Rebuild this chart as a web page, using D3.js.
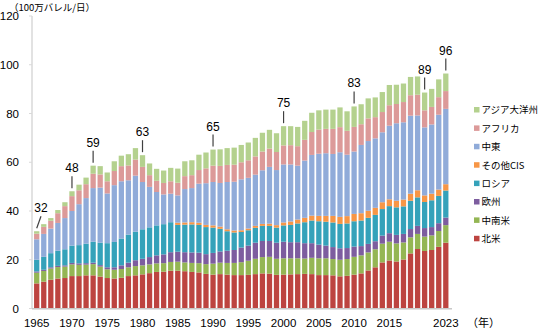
<!DOCTYPE html>
<html>
<head>
<meta charset="utf-8">
<script src="https://cdn.jsdelivr.net/npm/d3@7"></script>
<style>
  body { margin: 0; background: #fff; }
  svg { display: block; font-family: "Liberation Sans", Arial, "Noto Sans CJK JP", sans-serif; }
  .jp { font-family: "Noto Sans CJK JP", sans-serif; }
</style>
</head>
<body>
<svg id="chart" width="540" height="329"></svg>
<script>
// 地域別の石油生産量（100万バレル/日）、1965〜2023年
const years = d3.range(1965, 2024)

const northAmerica = [
  10.3, 11.0, 11.8, 12.3, 12.5, 13.3, 13.3, 13.6, 13.6, 13.1,
  12.5, 12.3, 12.6, 13.3, 13.6, 14.0, 14.5, 15.0, 15.1, 15.5,
  15.5, 15.3, 15.0, 14.8, 14.2, 13.9, 14.1, 13.9, 13.7, 13.7,
  13.8, 14.1, 14.4, 14.3, 13.8, 13.9, 14.0, 14.1, 14.2, 14.1,
  13.7, 13.7, 13.6, 13.2, 13.4, 13.9, 14.4, 15.6, 16.9, 18.9,
  19.7, 19.3, 20.1, 22.6, 24.4, 23.6, 24.0, 25.3, 27.0]
const latinAmerica = [
  4.4, 4.4, 4.6, 4.7, 4.7, 4.8, 4.6, 4.4, 4.6, 4.1,
  3.6, 3.6, 3.6, 3.6, 3.8, 3.7, 3.6, 3.5, 3.5, 3.6,
  3.7, 3.6, 3.7, 3.8, 4.0, 4.5, 4.7, 4.8, 5.0, 5.3,
  5.8, 6.3, 6.7, 6.9, 6.6, 6.7, 6.6, 6.5, 6.3, 6.7,
  6.9, 6.9, 6.7, 6.8, 6.9, 7.3, 7.4, 7.4, 7.4, 7.7,
  7.7, 7.4, 7.0, 6.6, 6.2, 5.9, 6.0, 6.5, 7.2]
const europe = [
  0.5, 0.5, 0.5, 0.5, 0.5, 0.6, 0.6, 0.6, 0.6, 0.6,
  0.8, 1.0, 1.5, 1.9, 2.4, 2.7, 3.0, 3.3, 3.6, 4.0,
  4.1, 4.2, 4.3, 4.3, 4.1, 4.4, 4.6, 5.0, 5.3, 6.0,
  6.2, 6.6, 6.6, 6.5, 6.6, 6.8, 6.6, 6.6, 6.3, 6.0,
  5.6, 5.2, 4.9, 4.7, 4.5, 4.2, 3.8, 3.5, 3.3, 3.3,
  3.5, 3.5, 3.5, 3.4, 3.3, 3.5, 3.4, 3.2, 3.1]
// 1984年まではソ連全体
const russia = [
  4.8, 5.3, 5.8, 6.2, 6.6, 7.1, 7.5, 8.0, 8.6, 9.2,
  9.9, 10.4, 11.0, 11.5, 11.7, 12.1, 12.2, 12.3, 12.4, 12.3,
  11.0, 11.3, 11.5, 11.4, 11.1, 10.4, 9.3, 8.0, 7.2, 6.4,
  6.3, 6.1, 6.2, 6.2, 6.2, 6.7, 7.1, 7.7, 8.6, 9.3,
  9.6, 9.8, 10.1, 10.0, 10.1, 10.4, 10.5, 10.7, 10.8, 10.9,
  11.1, 11.3, 11.3, 11.6, 11.7, 10.7, 11.0, 11.2, 11.1]
const otherCis = [
  0, 0, 0, 0, 0, 0, 0, 0, 0, 0,
  0, 0, 0, 0, 0, 0, 0, 0, 0, 0,
  0.9, 0.9, 0.9, 0.9, 0.9, 0.9, 0.9, 0.8, 0.8, 0.7,
  0.7, 0.8, 0.8, 0.9, 1.0, 1.2, 1.4, 1.6, 1.8, 2.0,
  2.2, 2.4, 2.7, 2.9, 3.0, 3.0, 3.0, 2.9, 2.9, 2.8,
  2.8, 2.7, 2.8, 2.9, 2.9, 2.7, 2.7, 2.6, 2.6]
const middleEast = [
  8.4, 9.4, 10.1, 11.4, 12.8, 14.2, 16.8, 18.7, 22.0, 22.6,
  20.4, 23.3, 23.5, 22.3, 23.0, 19.4, 16.6, 13.7, 12.2, 11.7,
  11.2, 13.7, 14.0, 16.0, 17.1, 17.8, 17.9, 19.4, 20.0, 20.9,
  20.8, 21.0, 22.0, 23.3, 22.6, 23.8, 23.4, 22.1, 23.5, 24.9,
  25.5, 25.7, 25.4, 26.5, 25.2, 25.6, 28.0, 28.6, 28.5, 28.7,
  30.2, 31.8, 31.7, 32.0, 30.7, 27.9, 28.4, 30.7, 30.9]
const africa = [
  2.3, 2.9, 3.2, 4.0, 4.9, 6.1, 5.7, 5.7, 5.9, 5.4,
  5.0, 5.8, 6.2, 6.1, 6.6, 6.2, 4.8, 4.6, 4.7, 5.1,
  5.2, 5.3, 5.3, 5.6, 6.1, 6.7, 7.0, 7.0, 7.0, 7.0,
  7.2, 7.5, 7.7, 7.5, 7.4, 7.8, 7.9, 8.0, 8.5, 9.4,
  9.9, 10.0, 10.3, 10.3, 9.8, 10.1, 8.5, 9.3, 8.7, 8.3,
  8.4, 7.9, 8.3, 8.4, 8.5, 7.0, 7.2, 7.2, 7.3]
const asiaPacific = [
  1.0, 1.1, 1.1, 1.3, 1.6, 2.0, 2.3, 2.7, 3.3, 3.4,
  3.6, 4.0, 4.3, 4.6, 4.7, 4.8, 4.8, 4.9, 5.1, 5.5,
  5.8, 6.1, 6.1, 6.3, 6.5, 6.6, 6.8, 6.9, 7.0, 7.1,
  7.3, 7.6, 7.7, 7.7, 7.7, 7.9, 7.8, 7.9, 7.8, 7.9,
  7.9, 7.9, 7.9, 8.1, 8.0, 8.4, 8.2, 8.2, 8.1, 8.2,
  8.3, 7.9, 7.6, 7.5, 7.5, 7.3, 7.4, 7.3, 7.2]

// 下から積み上げる順
const regions = ['北米', '中南米', '欧州', 'ロシア', 'その他CIS', '中東', 'アフリカ', 'アジア大洋州']
const regionValues = [northAmerica, latinAmerica, europe, russia, otherCis, middleEast, africa, asiaPacific]
const regionColors = ['#bd4440', '#94b654', '#7d5d9f', '#35a2ba', '#f79646', '#90abd9', '#dc9a99', '#b4d18e']

const yTicks = [0, 20, 40, 60, 80, 100, 120]
const xTickYears = [1965, 1970, 1975, 1980, 1985, 1990, 1995, 2000, 2005, 2010, 2015, 2023]
const totalLabelYears = [1965, 1970, 1973, 1980, 1990, 2000, 2010, 2020, 2023]

const rows = years.map((year, i) => {
  const row = { year }
  regions.forEach((r, k) => { row[r] = regionValues[k][i] })
  return row
})
const series = d3.stack().keys(regions)(rows)
const totals = new Map(rows.map(r => [r.year, d3.sum(regions, k => r[k])]))

const svg = d3.select('#chart')

const x = d3.scaleBand()
  .domain(years)
  .range([33, 449.5])
  .paddingInner(0.25)
  .paddingOuter(0.15)

const y = d3.scaleLinear()
  .domain([0, 120])
  .range([308.5, 16])

const color = d3.scaleOrdinal().domain(regions).range(regionColors)

// 縦軸
svg.append('line')
  .attr('x1', 32).attr('x2', 32)
  .attr('y1', y(120)).attr('y2', y(0))
  .attr('stroke', '#d9d9d9').attr('stroke-width', 1.5)

const yAxis = svg.append('g')
yAxis.selectAll('line')
  .data(yTicks)
  .join('line')
  .attr('x1', 29).attr('x2', 32)
  .attr('y1', d => y(d)).attr('y2', d => y(d))
  .attr('stroke', '#d9d9d9')
yAxis.selectAll('text')
  .data(yTicks)
  .join('text')
  .attr('x', 19)
  .attr('y', d => y(d))
  .attr('dy', '0.36em')
  .attr('text-anchor', 'end')
  .attr('font-size', 11.5)
  .attr('fill', '#000')
  .text(d => d)

svg.append('text')
  .attr('class', 'jp')
  .attr('x', 9)
  .attr('y', 10.5)
  .attr('font-size', 9.5)
  .text('（100万バレル/日）')

// 積み上げ棒
svg.append('g')
  .selectAll('g')
  .data(series)
  .join('g')
  .attr('fill', d => color(d.key))
  .selectAll('rect')
  .data(d => d)
  .join('rect')
  .attr('x', d => x(d.data.year))
  .attr('width', x.bandwidth())
  .attr('y', d => y(d[1]))
  .attr('height', d => Math.max(0, y(d[0]) - y(d[1])))

// 横軸
svg.append('line')
  .attr('x1', 32).attr('x2', 452)
  .attr('y1', y(0) + 0.3).attr('y2', y(0) + 0.3)
  .attr('stroke', '#c8c8c8').attr('stroke-width', 1.5)

svg.append('g')
  .selectAll('text')
  .data(xTickYears)
  .join('text')
  .attr('x', d => x(d) + x.bandwidth() / 2)
  .attr('y', 327)
  .attr('text-anchor', 'middle')
  .attr('font-size', 11.5)
  .text(d => d)

svg.append('text')
  .attr('class', 'jp')
  .attr('x', 467)
  .attr('y', 327)
  .attr('font-size', 11)
  .text('（年）')

// 合計値のラベルと引き出し線
const fmt = d3.format('.0f')
const labels = svg.append('g').selectAll('g')
  .data(totalLabelYears)
  .join('g')
labels.append('line')
  .attr('x1', d => x(d) + x.bandwidth() / 2)
  .attr('y1', d => y(totals.get(d)) - 3)
  .attr('x2', d => Math.max(x(d) + x.bandwidth() / 2, 41))
  .attr('y2', d => y(totals.get(d)) - 15)
  .attr('stroke', '#404040')
  .attr('stroke-width', 1.2)
labels.append('text')
  .attr('x', d => Math.max(x(d) + x.bandwidth() / 2, 41))
  .attr('y', d => y(totals.get(d)) - 19)
  .attr('text-anchor', 'middle')
  .attr('font-size', 12)
  .text(d => fmt(totals.get(d)))

// 凡例（上から積み上げの逆順）
const legend = svg.append('g')
  .selectAll('g')
  .data(regions.slice().reverse())
  .join('g')
  .attr('transform', (d, i) => `translate(474, ${110 + i * 18.4})`)
legend.append('rect')
  .attr('x', 0).attr('y', -3)
  .attr('width', 5.5).attr('height', 5.5)
  .attr('fill', d => color(d))
legend.append('text')
  .attr('class', 'jp')
  .attr('x', 7.5)
  .attr('dy', '0.36em')
  .attr('font-size', 9.5)
  .text(d => d)
</script>
</body>
</html>
